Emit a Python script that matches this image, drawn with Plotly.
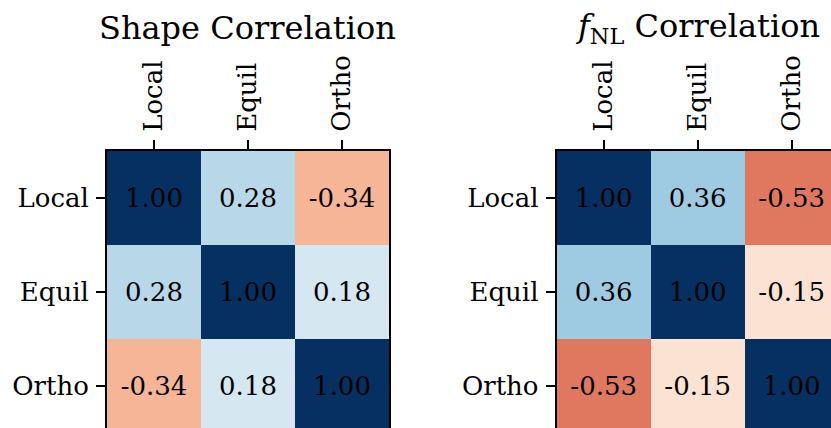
import plotly.graph_objects as go
import plotly.express as px

labels = ["Local", "Equil", "Ortho"]
shape_corr = [[1.00, 0.28, -0.34],
              [0.28, 1.00, 0.18],
              [-0.34, 0.18, 1.00]]
fnl_corr = [[1.00, 0.36, -0.53],
            [0.36, 1.00, -0.15],
            [-0.53, -0.15, 1.00]]
titles = ["Shape Correlation", "<i>f</i><sub>NL</sub> Correlation"]

# figure is a crop of a larger image: axes run past the right/bottom window edge
W, H = 842, 438
cell = 94.0
FONT = "DejaVu Serif"
FS = 26

rdbu = px.colors.diverging.RdBu  # ColorBrewer RdBu (same as matplotlib)
n = len(rdbu)
cscale = [[i / (n - 1), c] for i, c in enumerate(rdbu)]

fig = go.Figure()
idx = list(range(len(labels)))
for k, z in enumerate([shape_corr, fnl_corr]):
    fig.add_trace(go.Heatmap(
        z=z, x=idx, y=idx,
        colorscale=cscale, zmin=-1, zmax=1, showscale=False,
        texttemplate="%{z:.2f}",
        textfont=dict(family=FONT, size=FS, color="black"),
        xaxis="x" if k == 0 else "x2",
        yaxis="y" if k == 0 else "y2",
        hoverinfo="skip",
    ))

left0 = 107.0
right0 = 556.7
top_px = 151.0
bot_px = top_px + 3 * cell
ydom = [1 - bot_px / H, 1 - top_px / H]
yr = [2.5, -0.5]

def xax(domain, anchor):
    return dict(domain=domain, range=[-0.5, 2.5], anchor=anchor, side="top",
                tickmode="array", tickvals=idx, ticktext=labels,
                tickangle=-90, ticks="outside", ticklen=9, tickwidth=2,
                tickcolor="black", showline=True, linecolor="black",
                linewidth=2, showgrid=False, zeroline=False,
                tickfont=dict(family=FONT, size=FS, color="black"),
                ticklabelstandoff=3,
                automargin=False, fixedrange=True)

def yax(anchor, mirror):
    return dict(domain=ydom, range=yr, anchor=anchor,
                tickmode="array", tickvals=idx, ticktext=labels,
                ticks="outside", ticklen=9, tickwidth=2, tickcolor="black",
                showline=True, linecolor="black", linewidth=2, mirror=mirror,
                showgrid=False, zeroline=False,
                tickfont=dict(family=FONT, size=FS, color="black"),
                ticklabelstandoff=2,
                automargin=False, fixedrange=True)

fig.update_layout(
    width=W, height=H,
    margin=dict(l=0, r=0, t=0, b=0),
    paper_bgcolor="white", plot_bgcolor="white",
    xaxis=xax([left0 / W, (left0 + 3 * cell) / W], "y"),
    yaxis=yax("x", True),
    xaxis2=xax([right0 / W, (right0 + 3 * cell) / W], "y2"),
    yaxis2=yax("x2", True),
    showlegend=False,
)

centers = [left0 + 1.5 * cell, right0 + 1.5 * cell]
for t, cx in zip(titles, centers):
    fig.add_annotation(text=t, x=cx / W, y=1 - 28 / H, xref="paper", yref="paper",
                       xanchor="center", yanchor="middle", showarrow=False,
                       font=dict(family=FONT, size=32, color="black"))

page_css = ("document.documentElement.style.overflow='hidden';"
            "document.body.style.overflow='hidden';"
            "document.body.style.margin='0';")
fig.write_html("out.html", post_script=page_css,
               config={"displayModeBar": False, "staticPlot": True})
